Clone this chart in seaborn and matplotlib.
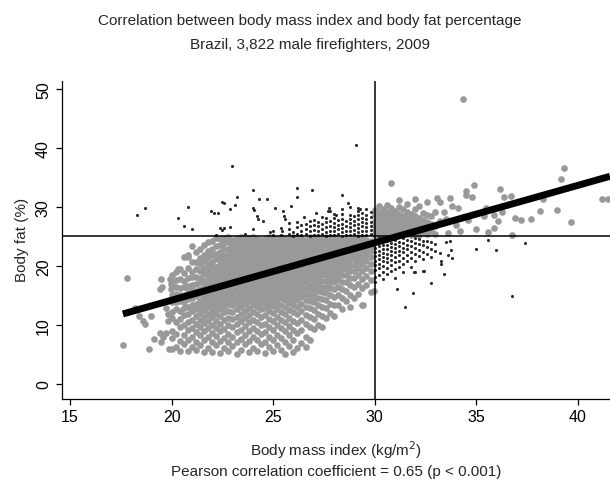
import matplotlib
matplotlib.use('Agg')
import matplotlib.pyplot as plt
import seaborn as sns
import pandas as pd

# body mass index (kg/m2) columns and the body fat (%) values seen in each
core_bmi = [20.0, 20.2, 20.4, 20.6, 20.8, 21.0, 21.2, 21.4, 21.6, 21.8,
            22.0, 22.2, 22.4, 22.6, 22.8, 23.0, 23.2, 23.4, 23.6, 23.8,
            24.0, 24.2, 24.4, 24.6, 24.8, 25.0, 25.2, 25.4, 25.6, 25.8,
            26.0, 26.2, 26.4, 26.6, 26.8, 27.0, 27.2, 27.4, 27.6, 27.8,
            28.0, 28.2, 28.4, 28.6, 28.8, 29.0, 29.2, 29.4, 29.6, 29.8]
core_fat = [
    [5.9, 7.8, 9.0, 11.2, 12.1, 13.8, 15.0, 17.0, 18.4],
    [6.3, 8.4, 10.5, 12.6, 13.9, 15.2, 16.4, 17.6, 19.0],
    [5.6, 7.2, 9.6, 11.0, 12.4, 14.1, 15.0, 16.3, 17.7, 19.4],
    [6.8, 8.2, 9.9, 11.6, 12.9, 13.8, 15.1, 16.5, 17.4, 18.8, 21.5],
    [5.5, 7.4, 9.1, 10.4, 11.8, 13.0, 14.3, 15.5, 16.6, 17.9, 19.6, 21.8],
    [6.2, 8.0, 9.4, 10.9, 12.3, 13.4, 14.6, 15.9, 16.8, 18.1, 19.0, 20.7, 23.4],
    [5.7, 7.1, 8.8, 10.1, 11.5, 12.7, 13.6, 14.9, 15.7, 16.9, 18.2, 19.5, 20.6, 22.4],
    [6.6, 8.3, 9.7, 10.8, 12.0, 13.1, 14.0, 15.2, 16.1, 17.3, 18.0, 19.2, 20.3, 21.4, 22.9],
    [5.4, 7.5, 9.0, 10.3, 11.4, 12.5, 13.5, 14.5, 15.6, 16.4, 17.5, 18.6, 19.7, 20.9, 21.8, 23.5],
    [6.1, 7.9, 9.5, 10.7, 11.9, 13.0, 14.1, 14.9, 15.8, 16.7, 17.6, 18.4, 19.3, 20.4, 21.5, 22.6, 24.0],
    [5.3, 7.0, 8.6, 10.0, 11.3, 12.4, 13.4, 14.4, 15.3, 16.1, 17.0, 17.9, 18.8, 19.8, 20.7, 21.9, 22.8, 24.3],
    [6.5, 8.1, 9.4, 10.6, 11.8, 12.9, 13.9, 14.8, 15.7, 16.5, 17.3, 18.2, 19.0, 19.9, 21.1, 22.1, 23.3, 24.7],
    [5.2, 7.3, 8.9, 10.2, 11.5, 12.6, 13.6, 14.5, 15.4, 16.2, 17.1, 17.8, 18.6, 19.5, 20.4, 21.3, 22.4, 23.6, 24.6],
    [6.0, 7.7, 9.3, 10.8, 12.1, 13.2, 14.2, 15.1, 15.9, 16.8, 17.6, 18.4, 19.2, 20.0, 20.9, 21.8, 22.8, 23.9, 24.8],
    [5.5, 7.0, 8.5, 9.9, 11.2, 12.4, 13.5, 14.4, 15.3, 16.1, 16.9, 17.7, 18.5, 19.3, 20.1, 21.0, 21.9, 22.9, 24.0, 24.9],
    [6.4, 8.0, 9.6, 11.0, 12.2, 13.3, 14.3, 15.2, 16.0, 16.8, 17.5, 18.3, 19.1, 19.9, 20.7, 21.5, 22.5, 23.4, 24.4],
    [5.1, 7.1, 8.7, 10.1, 11.4, 12.6, 13.7, 14.6, 15.5, 16.3, 17.1, 17.9, 18.7, 19.5, 20.3, 21.1, 22.0, 22.9, 23.9, 24.8],
    [5.8, 7.6, 9.2, 10.6, 11.9, 13.0, 14.0, 14.9, 15.8, 16.6, 17.4, 18.2, 19.0, 19.8, 20.6, 21.4, 22.3, 23.2, 24.1, 24.9],
    [6.7, 8.3, 9.8, 11.2, 12.4, 13.5, 14.5, 15.4, 16.2, 17.0, 17.8, 18.6, 19.4, 20.2, 21.0, 21.8, 22.6, 23.5, 24.5],
    [5.3, 7.2, 8.9, 10.4, 11.7, 12.9, 14.0, 14.9, 15.8, 16.6, 17.4, 18.2, 19.0, 19.8, 20.6, 21.4, 22.2, 23.0, 23.8, 24.7],
    [6.1, 7.9, 9.5, 10.9, 12.2, 13.4, 14.4, 15.3, 16.1, 16.9, 17.7, 18.5, 19.3, 20.1, 20.9, 21.7, 22.5, 23.3, 24.2, 24.9],
    [5.6, 7.4, 9.0, 10.5, 11.8, 13.0, 14.1, 15.0, 15.9, 16.7, 17.5, 18.3, 19.1, 19.9, 20.7, 21.5, 22.3, 23.1, 23.9, 24.6],
    [6.8, 8.5, 10.0, 11.4, 12.6, 13.7, 14.7, 15.6, 16.4, 17.2, 18.0, 18.8, 19.6, 20.4, 21.2, 22.0, 22.8, 23.6, 24.4],
    [5.2, 7.0, 8.7, 10.2, 11.6, 12.8, 13.9, 14.8, 15.7, 16.5, 17.3, 18.1, 18.9, 19.7, 20.5, 21.3, 22.1, 22.9, 23.7, 24.5],
    [6.3, 8.0, 9.6, 11.0, 12.3, 13.4, 14.4, 15.3, 16.2, 17.0, 17.8, 18.6, 19.4, 20.2, 21.0, 21.8, 22.6, 23.4, 24.2, 24.9],
    [5.5, 7.5, 9.2, 10.7, 12.0, 13.2, 14.2, 15.1, 16.0, 16.8, 17.6, 18.4, 19.2, 20.0, 20.8, 21.6, 22.4, 23.2, 24.0, 24.8],
    [6.6, 8.3, 9.9, 11.3, 12.6, 13.7, 14.7, 15.6, 16.5, 17.3, 18.1, 18.9, 19.7, 20.5, 21.3, 22.1, 22.9, 23.7, 24.5],
    [5.8, 7.7, 9.4, 10.9, 12.2, 13.4, 14.5, 15.4, 16.3, 17.1, 17.9, 18.7, 19.5, 20.3, 21.1, 21.9, 22.7, 23.5, 24.3, 24.95],
    [5.0, 7.1, 8.9, 10.5, 11.9, 13.1, 14.2, 15.2, 16.1, 16.9, 17.7, 18.5, 19.3, 20.1, 20.9, 21.7, 22.5, 23.3, 24.1, 24.8],
    [6.4, 8.2, 9.8, 11.2, 12.5, 13.7, 14.8, 15.7, 16.6, 17.4, 18.2, 19.0, 19.8, 20.6, 21.4, 22.2, 23.0, 23.8, 24.6],
    [5.3, 7.4, 9.1, 10.7, 12.1, 13.3, 14.4, 15.4, 16.3, 17.1, 17.9, 18.7, 19.5, 20.3, 21.1, 21.9, 22.7, 23.5, 24.3, 24.9],
    [6.0, 8.6, 10.3, 11.8, 13.1, 14.2, 15.2, 16.1, 17.0, 17.8, 18.6, 19.4, 20.2, 21.0, 21.8, 22.6, 23.4, 24.2, 24.9],
    [6.9, 9.2, 10.9, 12.4, 13.6, 14.7, 15.7, 16.6, 17.5, 18.3, 19.1, 19.9, 20.7, 21.5, 22.3, 23.1, 23.9, 24.7],
    [6.2, 8.0, 10.1, 11.6, 13.0, 14.2, 15.3, 16.3, 17.2, 18.0, 18.8, 19.6, 20.4, 21.2, 22.0, 22.8, 23.6, 24.4],
    [7.4, 9.6, 11.3, 12.8, 14.0, 15.1, 16.1, 17.0, 17.9, 18.7, 19.5, 20.3, 21.1, 21.9, 22.7, 23.5, 24.3, 24.95],
    [9.3, 11.0, 12.5, 13.8, 14.9, 15.9, 16.9, 17.8, 18.6, 19.4, 20.2, 21.0, 21.8, 22.6, 23.4, 24.2, 24.9],
    [10.0, 11.9, 13.4, 14.6, 15.7, 16.7, 17.6, 18.5, 19.3, 20.1, 20.9, 21.7, 22.5, 23.3, 24.1, 24.8],
    [9.6, 11.5, 13.0, 14.3, 15.5, 16.5, 17.5, 18.4, 19.2, 20.0, 20.8, 21.6, 22.4, 23.2, 24.0, 24.7],
    [11.2, 12.8, 14.2, 15.4, 16.5, 17.5, 18.4, 19.3, 20.1, 20.9, 21.7, 22.5, 23.3, 24.1, 24.9],
    [12.0, 13.6, 15.0, 16.2, 17.3, 18.3, 19.2, 20.1, 20.9, 21.7, 22.5, 23.3, 24.1, 24.8],
    [11.5, 13.3, 14.8, 16.1, 17.2, 18.2, 19.1, 20.0, 20.9, 21.7, 22.5, 23.3, 24.1, 24.9],
    [13.4, 15.0, 16.4, 17.6, 18.6, 19.6, 20.5, 21.3, 22.1, 22.9, 23.7, 24.5],
    [12.6, 14.5, 16.0, 17.3, 18.4, 19.4, 20.3, 21.2, 22.0, 22.8, 23.6, 24.4],
    [14.1, 15.8, 17.2, 18.4, 19.5, 20.5, 21.4, 22.2, 23.0, 23.8, 24.6],
    [13.0, 15.1, 16.7, 18.0, 19.2, 20.2, 21.1, 22.0, 22.8, 23.6, 24.4],
    [14.6, 16.4, 17.9, 19.1, 20.2, 21.2, 22.1, 23.0, 23.8, 24.6],
    [15.3, 17.0, 18.4, 19.6, 20.7, 21.7, 22.6, 23.4, 24.2, 24.9],
    [13.4, 16.2, 17.8, 19.1, 20.3, 21.3, 22.3, 23.2, 24.0, 24.8],
    [16.7, 18.3, 19.6, 20.8, 21.8, 22.7, 23.6, 24.4],
    [15.5, 17.6, 19.1, 20.4, 21.5, 22.5, 23.4, 24.3],
]

# the dark band just above 25 % fat, normal/overweight BMI
band_bmi = [25.0, 25.4, 25.8, 26.0, 26.2, 26.4, 26.6, 26.8, 27.0, 27.2, 27.4, 27.6,
            27.8, 28.0, 28.2, 28.4, 28.6, 28.8, 29.0, 29.2, 29.4, 29.6, 29.8]
band_fat = [
    [25.3, 26.0], [25.2, 26.5], [25.4, 26.3, 27.3], [25.1, 25.8],
    [25.5, 26.6, 27.5], [25.2, 26.0, 27.0], [25.4, 26.3, 27.2],
    [25.1, 25.9, 26.8, 27.7], [25.3, 26.1, 27.0, 27.8], [25.2, 25.9, 26.7, 27.5],
    [25.4, 26.2, 27.1, 28.3], [25.1, 25.8, 26.6, 27.4, 28.2],
    [25.3, 26.0, 26.8, 27.6, 29.3], [25.2, 25.9, 26.6, 27.3, 28.1, 28.9],
    [25.4, 26.2, 27.0, 27.8], [25.1, 25.8, 26.5, 27.2, 28.0, 28.8, 29.6],
    [25.3, 26.0, 26.8, 27.6], [25.2, 25.9, 26.6, 27.3, 28.0, 28.7, 30.0],
    [25.4, 26.1, 26.9, 27.7, 28.5], [25.1, 25.8, 26.5, 27.2, 27.9, 28.6, 29.4],
    [25.3, 26.0, 26.7, 27.4, 28.1, 29.0], [25.2, 25.9, 26.6, 27.3, 28.0, 28.7, 29.6],
    [25.4, 26.1, 26.8, 27.5, 28.3, 29.2],
]

# obese columns (BMI >= 30)
obese_bmi = [30.0, 30.2, 30.4, 30.6, 30.8, 31.0, 31.2, 31.4, 31.6,
             31.8, 32.0, 32.2, 32.4, 32.6, 32.8, 33.0, 33.2]
obese_fat = [
    [17.2, 18.2, 19.3, 20.1, 20.9, 21.6, 22.3, 23.0, 23.7, 24.4, 25.3, 26.1, 26.9, 27.7, 28.6, 29.5],
    [18.5, 19.6, 20.4, 21.2, 21.9, 22.6, 23.3, 24.0, 24.7, 25.1, 25.8, 26.5, 27.3, 28.1, 29.0, 30.1],
    [17.8, 19.0, 20.0, 20.8, 21.5, 22.2, 22.9, 23.6, 24.3, 25.4, 26.2, 27.0, 27.8, 28.7, 29.7],
    [18.6, 19.7, 20.6, 21.4, 22.1, 22.8, 23.5, 24.2, 24.9, 25.2, 25.9, 26.7, 27.5, 28.3, 29.2, 30.4],
    [19.2, 20.2, 21.0, 21.8, 22.5, 23.2, 23.9, 24.6, 25.5, 26.3, 27.1, 27.9, 28.8, 29.9, 34.1],
    [17.9, 19.5, 20.6, 21.5, 22.3, 23.0, 23.7, 24.4, 25.1, 25.9, 26.7, 27.5, 28.4, 29.4],
    [19.9, 20.9, 21.8, 22.6, 23.4, 24.1, 25.4, 26.2, 27.0, 27.9, 28.9, 30.0, 31.2],
    [19.0, 20.4, 21.4, 22.3, 23.1, 23.9, 24.7, 25.2, 26.0, 26.8, 27.6, 28.5, 29.6],
    [20.8, 21.9, 22.8, 23.6, 24.4, 25.5, 26.4, 27.3, 28.2, 29.2, 30.5],
    [19.8, 21.3, 22.4, 23.3, 24.2, 25.3, 26.1, 27.0, 27.9, 28.9],
    [18.9, 20.9, 22.0, 23.0, 23.9, 24.7, 25.6, 26.5, 27.5, 28.5, 29.7, 31.3],
    [21.6, 22.7, 23.7, 24.5, 25.2, 26.1, 27.1, 28.2, 30.2],
    [19.2, 21.1, 22.4, 23.5, 24.3, 25.7, 26.7, 27.8, 29.0],
    [22.0, 23.2, 24.2, 25.4, 26.4, 27.5, 28.7, 30.8],
    [17.1, 21.5, 22.9, 24.0, 26.0, 27.2, 28.4],
    [22.5, 23.8, 25.5, 26.8, 29.2],
    [27.6, 30.8],
]

# scattered single firefighters (bmi, fat)
sparse_points = [
    (17.6, 6.5), (17.8, 18.0), (18.2, 12.8), (18.38, 11.45), (18.58, 10.6),
    (18.7, 10.15), (18.9, 5.9), (19.0, 11.45), (19.15, 7.6), (19.43, 8.6),
    (19.45, 16.0), (19.47, 17.7), (19.5, 7.1), (19.55, 16.5), (19.6, 7.9),
    (19.7, 8.6), (19.8, 11.9), (19.8, 10.7), (19.85, 5.9), (19.9, 17.7),
    (19.95, 16.9), (19.95, 16.1), (19.9, 14.0), (19.7, 12.9), (20.3, 19.5),
    (20.8, 21.5), (29.45, 13.4), (29.95, 15.8),
    (18.3, 28.7), (18.7, 29.8), (20.3, 28.1), (20.8, 30.0), (20.6, 26.75),
    (21.0, 26.2), (21.95, 29.25), (22.3, 29.0), (22.1, 29.0), (22.6, 30.7),
    (22.5, 30.9), (23.1, 30.4), (23.2, 31.7), (23.0, 37.0), (22.9, 29.7),
    (22.4, 26.5), (22.5, 26.1), (22.6, 26.5), (22.9, 26.6), (22.2, 25.3),
    (24.0, 32.9), (24.3, 31.4), (24.7, 31.3), (24.0, 29.9), (24.05, 29.5),
    (24.2, 28.4), (24.25, 27.9), (24.5, 27.6), (24.0, 26.2), (24.85, 25.7),
    (25.1, 29.9), (25.5, 29.25), (25.9, 30.1), (26.2, 33.3), (26.2, 31.75),
    (26.9, 32.9), (28.4, 32.1), (28.7, 30.7), (27.1, 29.0), (25.6, 28.0),
    (25.55, 28.4), (27.75, 29.8), (27.7, 29.3), (28.1, 28.6), (29.3, 29.6),
    (29.2, 29.9), (29.1, 40.5), (25.45, 26.0), (26.5, 28.3), (23.6, 25.4),
    (33.1, 31.6), (33.7, 31.5), (33.8, 30.2), (34.35, 48.3), (34.5, 32.8),
    (34.5, 32.0), (34.8, 31.7), (34.9, 33.7), (35.5, 29.9), (35.4, 28.5),
    (35.9, 28.7), (36.1, 27.6), (35.9, 26.5), (35.6, 25.7), (36.2, 33.0),
    (36.3, 29.1), (36.4, 31.7), (36.7, 31.9), (36.75, 25.3), (36.9, 28.2),
    (37.2, 27.8), (37.7, 27.9), (38.15, 29.3), (38.3, 31.3), (39.0, 29.5),
    (39.2, 34.7), (39.35, 36.6), (39.7, 27.5), (41.2, 31.3), (41.5, 31.3),
    (33.5, 28.0), (34.0, 27.0), (34.2, 26.0), (33.6, 25.6), (34.6, 27.8),
    (35.0, 26.2), (33.4, 29.2), (34.1, 29.8),
    (31.1, 16.0), (31.5, 13.0), (31.9, 15.4), (33.4, 18.7), (33.25, 20.4),
    (33.25, 20.8), (33.8, 21.4), (33.6, 21.9), (33.75, 22.7), (33.2, 22.2),
    (33.5, 24.0), (33.7, 24.3), (35.0, 22.9), (35.6, 24.4), (36.0, 22.7),
    (37.4, 23.9), (36.75, 14.85), (32.45, 19.2), (31.95, 18.9),
]

# linear fit shown in the chart and the cut-off lines
fit_intercept = -5.3
fit_slope = 0.974
bmi_cut = 30
fat_cut = 25

rows = []
for cols, fats in [(core_bmi, core_fat), (band_bmi, band_fat), (obese_bmi, obese_fat)]:
    for b, vals in zip(cols, fats):
        rows += [(b, f) for f in vals]
rows += sparse_points
df = pd.DataFrame(rows, columns=['bmi', 'fat'])
df['concordant'] = (df['bmi'] < bmi_cut) == (df['fat'] < fat_cut)

sns.set_style('ticks')
plt.rcParams['font.family'] = ['Liberation Sans', 'DejaVu Sans']

fig = plt.figure(figsize=(6.1, 4.89), dpi=100)
ax = fig.add_axes([62 / 610, (489 - 400) / 489, 548 / 610, (400 - 82) / 489])

# grey = both indicators agree, dark = they disagree
sns.scatterplot(data=df[df['concordant']], x='bmi', y='fat', color='#999999',
                s=23, linewidth=0, ax=ax, zorder=2)
sns.scatterplot(data=df[~df['concordant']], x='bmi', y='fat', color='#2b2b2b',
                s=5, linewidth=0, ax=ax, zorder=2)

ax.axhline(fat_cut, color='black', lw=1.1, zorder=3)
ax.axvline(bmi_cut, color='black', lw=1.1, zorder=3)

x0, x1 = df['bmi'].min(), 41.6
ax.plot([x0, x1], [fit_intercept + fit_slope * x0, fit_intercept + fit_slope * x1],
        color='black', lw=5, solid_capstyle='butt', zorder=4)

ax.set_xlim(14.6, 41.6)
ax.set_ylim(-2.6, 51.4)
ax.set_xticks([15, 20, 25, 30, 35, 40])
ax.set_yticks([0, 10, 20, 30, 40, 50])
ax.tick_params(axis='both', direction='out', length=4, width=0.9, labelsize=11.5, colors='black')
ax.tick_params(axis='y', pad=4)
ax.tick_params(axis='x', pad=3)
for lab in ax.get_yticklabels():
    lab.set_rotation(90)
    lab.set_va('center')
for side in ['top', 'right']:
    ax.spines[side].set_visible(False)
for side in ['left', 'bottom']:
    ax.spines[side].set_linewidth(0.9)
    ax.spines[side].set_color('black')
ax.set_xlabel('')
ax.set_ylabel('')

fig.text(310 / 610, 1 - 21 / 489, 'Correlation between body mass index and body fat percentage',
         ha='center', va='center', fontsize=11)
fig.text(310 / 610, 1 - 45 / 489, 'Brazil, 3,822 male firefighters, 2009',
         ha='center', va='center', fontsize=11)
fig.text(22 / 610, 1 - 240 / 489, 'Body fat (%)', rotation=90, ha='center', va='center', fontsize=11)
fig.text(336 / 610, 1 - 450 / 489, 'Body mass index (kg/m$^2$)', ha='center', va='center', fontsize=11)
fig.text(336 / 610, 1 - 472 / 489, 'Pearson correlation coefficient = 0.65 (p < 0.001)',
         ha='center', va='center', fontsize=11)

fig.savefig('out.png', dpi=100)
